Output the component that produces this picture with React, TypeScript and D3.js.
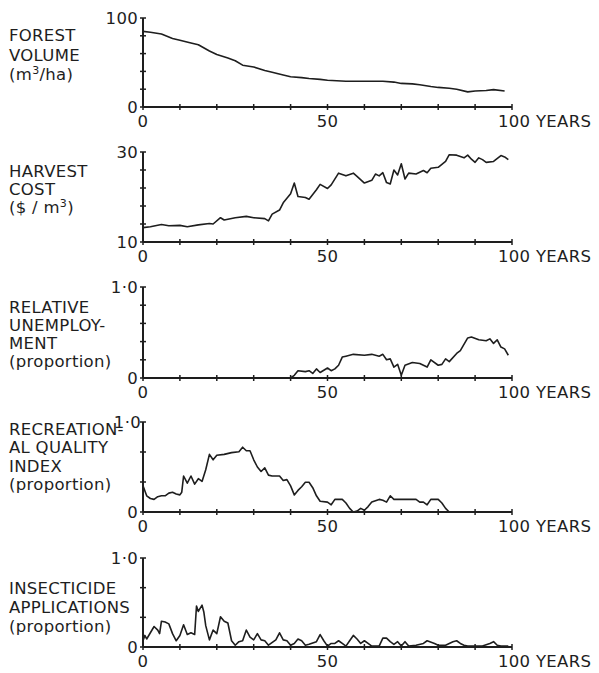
import React from 'react';
import * as d3 from 'd3';

// ---- data ----
const forestYears = [0, 2, 5, 8, 10, 13, 15, 18, 20, 23, 25, 27, 30, 33, 35, 38, 40, 43, 45, 48, 50, 55, 60, 65, 68, 70, 73, 75, 78, 80, 83, 85, 88, 90, 93, 95, 98];
const forestVolume = [85, 84, 82, 77, 75, 72, 70, 63, 59, 55, 52, 47, 45, 41, 39, 36, 34, 33, 32, 31, 30, 29, 29, 29, 28, 26.5, 26, 25, 23, 22, 21, 20, 17, 18, 18.5, 19.5, 18];

const costYears = [0, 2, 5, 7, 10, 12, 15, 18, 19, 21, 22, 25, 28, 30, 33, 34, 35, 37, 38, 40, 41, 42, 44, 45, 47, 48, 50, 51, 53, 55, 57, 58, 60, 62, 63, 64, 65, 66, 67, 68, 69, 70, 71, 72, 74, 76, 77, 78, 80, 82, 83, 85, 87, 88, 89, 90, 91, 92, 93, 95, 97, 98, 99];
const harvestCost = [13.2, 13.4, 13.9, 13.6, 13.7, 13.4, 13.8, 14.1, 14, 15.4, 14.9, 15.4, 15.7, 15.4, 15.2, 14.7, 16.2, 17.1, 18.7, 20.7, 23.1, 20.1, 19.9, 19.5, 21.6, 22.8, 21.9, 22.7, 25.3, 24.7, 25.3, 24.6, 23.1, 23.7, 25.1, 24.7, 25.4, 23.2, 22.9, 26, 24.9, 27.4, 24, 25.3, 25.1, 25.9, 25.4, 26.4, 26.6, 27.9, 29.4, 29.3, 28.7, 29.3, 28.4, 27.7, 28.7, 28.3, 27.7, 27.9, 29.2, 28.9, 28.3];

const unempYears = [0, 40, 41, 42, 44, 45, 46, 47, 48, 50, 51, 52, 53, 54, 55, 57, 60, 62, 64, 65, 66, 67, 68, 69, 70, 71, 73, 75, 77, 78, 80, 81, 82, 83, 85, 86, 88, 89, 91, 93, 94, 95, 96, 97, 98, 99];
const unemployment = [0, 0, 0.03, 0.08, 0.07, 0.08, 0.05, 0.1, 0.06, 0.11, 0.08, 0.1, 0.14, 0.23, 0.24, 0.26, 0.25, 0.26, 0.24, 0.26, 0.2, 0.21, 0.12, 0.15, 0.03, 0.14, 0.17, 0.16, 0.12, 0.2, 0.14, 0.15, 0.21, 0.18, 0.27, 0.3, 0.44, 0.45, 0.42, 0.41, 0.43, 0.38, 0.42, 0.34, 0.32, 0.25];

const recYears = [0, 1, 2, 3, 4, 5, 6, 7, 8, 9, 10, 10.5, 11, 12, 13, 14, 15, 16, 17, 18, 19, 20, 22, 24, 26, 27, 28, 29, 30, 31, 32, 33, 34, 35, 37, 38, 39, 40, 41, 42, 43, 44, 45, 46, 47, 48, 50, 51, 52, 54, 55, 56, 57, 58, 59, 60, 61, 62, 64, 65, 66, 67, 68, 70, 72, 74, 75, 76, 77, 78, 80, 81, 82, 83];
const recQuality = [0.29, 0.18, 0.15, 0.14, 0.17, 0.18, 0.18, 0.21, 0.22, 0.2, 0.19, 0.22, 0.4, 0.32, 0.4, 0.31, 0.37, 0.34, 0.47, 0.64, 0.58, 0.63, 0.64, 0.66, 0.67, 0.72, 0.68, 0.68, 0.58, 0.5, 0.45, 0.49, 0.41, 0.4, 0.4, 0.35, 0.36, 0.29, 0.19, 0.24, 0.28, 0.33, 0.33, 0.27, 0.18, 0.12, 0.11, 0.08, 0.14, 0.14, 0.1, 0.04, 0, 0.01, 0.04, 0.02, 0.06, 0.11, 0.14, 0.13, 0.11, 0.18, 0.14, 0.14, 0.14, 0.14, 0.11, 0.11, 0.08, 0.14, 0.14, 0.1, 0.04, 0];

const insectYears = [0, 0.5, 1, 2, 3, 4, 4.5, 5, 6, 7, 8, 9, 10, 11, 12, 13, 14, 14.5, 15, 16, 16.5, 17, 18, 19, 20, 21, 22, 23, 24, 25, 26, 27, 28, 29, 30, 31, 32, 33, 34, 36, 37, 38, 39, 40, 41, 42, 43, 44, 45, 47, 48, 49, 50, 51, 52, 53, 54, 55, 56, 57, 58, 59, 60, 61, 62, 64, 65, 66, 67, 68, 69, 70, 71, 72, 74, 76, 77, 79, 80, 82, 83, 84, 85, 86, 87, 88, 90, 92, 94, 95, 96, 97, 99];
const insecticide = [0.07, 0.13, 0.09, 0.16, 0.23, 0.19, 0.15, 0.29, 0.28, 0.26, 0.15, 0.07, 0.13, 0.25, 0.14, 0.16, 0.14, 0.46, 0.4, 0.47, 0.39, 0.24, 0.08, 0.19, 0.15, 0.34, 0.29, 0.27, 0.07, 0.02, 0.06, 0.07, 0.19, 0.11, 0.08, 0.15, 0.08, 0.07, 0.02, 0.08, 0.16, 0.08, 0.07, 0.02, 0.04, 0.09, 0.07, 0.02, 0.03, 0.06, 0.14, 0.07, 0.01, 0.04, 0.04, 0.07, 0.04, 0.01, 0.07, 0.13, 0.09, 0.04, 0.07, 0.04, 0.01, 0.01, 0.1, 0.1, 0.06, 0.03, 0.06, 0.01, 0.06, 0.01, 0.02, 0.04, 0.07, 0.04, 0.02, 0.02, 0.04, 0.06, 0.07, 0.04, 0.02, 0.01, 0.01, 0.01, 0.04, 0.06, 0.02, 0.01, 0.01];

const xTicks = d3.range(0, 101, 10);
const xLabels = ['0', '50', '100 YEARS'];

interface Panel {
  label: React.ReactNode[];
  labelY: number[];
  years: number[];
  values: number[];
  domain: [number, number];
  yTicks: number[];
  yTop: string;
  yBottom: string;
  top: number;
  bottom: number;
  topLabelX?: number;
}

const sup = (s: string) => <tspan baselineShift="super" fontSize={11}>{s}</tspan>;

const panels: Panel[] = [
  {
    label: ['FOREST', 'VOLUME', <>(m{sup('3')}/ha)</>],
    labelY: [41, 61, 80],
    years: forestYears, values: forestVolume,
    domain: [0, 100], yTicks: d3.range(0, 101, 20), yTop: '100', yBottom: '0',
    top: 18, bottom: 107
  },
  {
    label: ['HARVEST', 'COST', <>($ / m{sup('3')})</>],
    labelY: [177, 195, 213],
    years: costYears, values: harvestCost,
    domain: [10, 30], yTicks: d3.range(10, 31, 4), yTop: '30', yBottom: '10',
    top: 152, bottom: 242
  },
  {
    label: ['RELATIVE', 'UNEMPLOY-', 'MENT', '(proportion)'],
    labelY: [313, 331, 349, 367],
    years: unempYears, values: unemployment,
    domain: [0, 1], yTicks: d3.range(0, 1.01, 0.2), yTop: '1·0', yBottom: '0',
    top: 287, bottom: 378
  },
  {
    label: ['RECREATION-', 'AL  QUALITY', 'INDEX', '(proportion)'],
    labelY: [435, 453, 472, 490],
    years: recYears, values: recQuality,
    domain: [0, 1], yTicks: [0, 1 / 3, 2 / 3, 1], yTop: '1·0', yBottom: '0',
    top: 422, bottom: 512, topLabelX: 141
  },
  {
    label: ['INSECTICIDE', 'APPLICATIONS', '(proportion)'],
    labelY: [594, 613, 632],
    years: insectYears, values: insecticide,
    domain: [0, 1], yTicks: [0, 1 / 3, 2 / 3, 1], yTop: '1·0', yBottom: '0',
    top: 558, bottom: 647
  }
];

const X0 = 143;
const X1 = 512;
const ink = '#1e1e1e';
const FS = 16.5;

const ChartPanel: React.FC<{ p: Panel }> = ({ p }) => {
  const x = d3.scaleLinear().domain([0, 100]).range([X0, X1]);
  const y = d3.scaleLinear().domain(p.domain).range([p.bottom, p.top]);
  const line = d3.line<number>()
    .x((_, i) => x(p.years[i]))
    .y(d => y(d));

  return (
    <g>
      {/* left label */}
      {p.label.map((t, i) => (
        <text key={i} x={9} y={p.labelY[i]} fontSize={FS}>{t}</text>
      ))}

      {/* axes */}
      <line x1={X0} x2={X0} y1={p.top} y2={p.bottom} stroke={ink} strokeWidth={2} />
      <line x1={X0} x2={X1} y1={p.bottom} y2={p.bottom} stroke={ink} strokeWidth={2} />
      {p.yTicks.map((t, i) => (
        <line key={'y' + i} x1={X0 - 3} x2={X0 + 3} y1={y(t)} y2={y(t)} stroke={ink} strokeWidth={1.5} />
      ))}
      {xTicks.map(t => (
        <line key={'x' + t} x1={x(t)} x2={x(t)} y1={p.bottom - 3} y2={p.bottom + 3} stroke={ink} strokeWidth={1.5} />
      ))}

      {/* tick labels */}
      <text x={p.topLabelX ?? 138} y={p.top} fontSize={FS} textAnchor="end" dominantBaseline="central">{p.yTop}</text>
      <text x={138} y={p.bottom} fontSize={FS} textAnchor="end" dominantBaseline="central">{p.yBottom}</text>
      <text x={x(0)} y={p.bottom + 20} fontSize={FS} textAnchor="middle">{xLabels[0]}</text>
      <text x={x(50)} y={p.bottom + 20} fontSize={FS} textAnchor="middle">{xLabels[1]}</text>
      <text x={x(100) - 14} y={p.bottom + 20} fontSize={FS}>{xLabels[2]}</text>

      {/* series */}
      <path d={line(p.values) || ''} fill="none" stroke={ink} strokeWidth={1.6} strokeLinejoin="round" />
    </g>
  );
};

export default function App() {
  return (
    <svg
      width={599}
      height={673}
      viewBox="0 0 599 673"
      style={{ position: 'absolute', left: 0, top: 0, background: '#fff' }}
      fontFamily="DejaVu Sans"
      letterSpacing={0.3}
      fill={ink}
    >
      {panels.map((p, i) => <ChartPanel key={i} p={p} />)}
    </svg>
  );
}
